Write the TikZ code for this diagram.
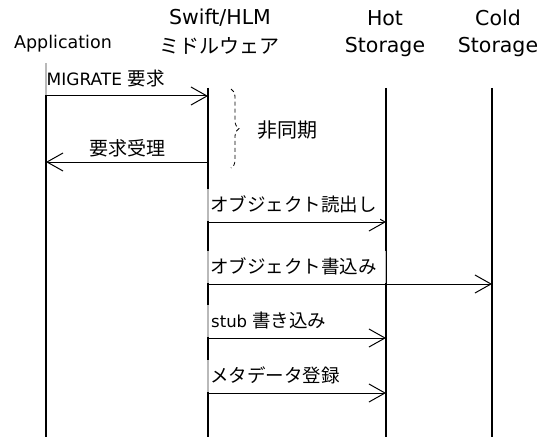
\documentclass[tikz,border=0pt]{standalone}
\usepackage{fontspec}
\setmainfont{DejaVu Sans}
\newfontfamily\jp{Noto Sans CJK JP}
\usetikzlibrary{arrows.meta,decorations.pathreplacing}

\tikzset{
  lifeline/.style={line width=1.8pt},
  msg/.style={line width=1pt,-{Straight Barb[length=16pt,width=18pt,line width=1pt]}},
  head/.style={font=\fontsize{20.5}{24}\selectfont,inner sep=0pt},
  note/.style={font=\jp\fontsize{18.5}{21}\selectfont,inner sep=1pt},
  boxed/.style={note,fill=white,anchor=south west,minimum height=32pt,inner xsep=3pt,
    path picture={\draw[gray!55,line width=2pt]
      ([xshift=1pt]path picture bounding box.north west) --
      ([xshift=1pt]path picture bounding box.south west);}}
}

\begin{document}
\begin{tikzpicture}[x=1pt,y=-1pt]
\useasboundingbox (0,0) rectangle (553,441);

% Headers
\node[head,font=\fontsize{17.5}{20}\selectfont] (app) at (63,44) {Application};
\node[head] (mw1) at (220,18) {Swift/HLM};
\node[head,font=\jp\fontsize{20}{24}\selectfont] (mw2) at (219,46) {ミドルウェア};
\node[head] (hot1) at (385,18) {Hot};
\node[head] (hot2) at (385,47) {Storage};
\node[head] (cold1) at (498,18) {Cold};
\node[head] (cold2) at (498,47) {Storage};

% Lifelines
\coordinate (A) at (46,88);
\coordinate (M) at (208,88);
\coordinate (H) at (386,88);
\coordinate (C) at (492,88);
\draw[lifeline] (A) -- +(0,349);
\draw[lifeline] (M) -- +(0,349);
\draw[lifeline] (H) -- +(0,349);
\draw[lifeline] (C) -- +(0,349);

% Request and reply
\draw[msg] (46,96) coordinate (req a) -- (208,96) coordinate (req b);
\node[boxed,inner xsep=1.5pt] (req) at (45,95) {\rmfamily\fontsize{17}{20}\selectfont MIGRATE {\jp\fontsize{18.5}{21}\selectfont 要求}};
\draw[msg] (208,162) coordinate (ack a) -- (46,162) coordinate (ack b);
\node[note,font=\jp\fontsize{19}{21}\selectfont] (ack) at (127,148) {要求受理};

% Asynchronous part
\draw[dash pattern=on 4pt off 3pt,line width=0.8pt,decorate,decoration={brace,amplitude=8pt}]
  (231,89) coordinate (async a) -- (231,168) coordinate (async b);
\node[note,anchor=west,font=\jp\fontsize{20}{22}\selectfont] (async) at (256,130) {非同期};

% Calls from the middleware
\draw[msg] (208,222) coordinate (rd a) -- (386,222) coordinate (rd b);
\node[boxed] (rd) at (207,221) {オブジェクト読出し};

\draw[msg] (208,284) coordinate (wr a) -- (492,284) coordinate (wr b);
\node[boxed,text width=172pt,
  append after command={(wr.north east) edge[draw=gray!55,line width=1.5pt] (wr.south east)}]
  (wr) at (207,283) {オブジェクト書込み};

\draw[msg] (208,338) coordinate (stub a) -- (386,338) coordinate (stub b);
\node[boxed,inner xsep=4pt] (stub) at (207,337) {\rmfamily\fontsize{16.5}{20}\selectfont stub {\jp\fontsize{18.5}{21}\selectfont 書き込み}};

\draw[msg] (208,393) coordinate (meta a) -- (386,393) coordinate (meta b);
\node[boxed] (meta) at (207,392) {メタデータ登録};
\end{tikzpicture}
\end{document}
